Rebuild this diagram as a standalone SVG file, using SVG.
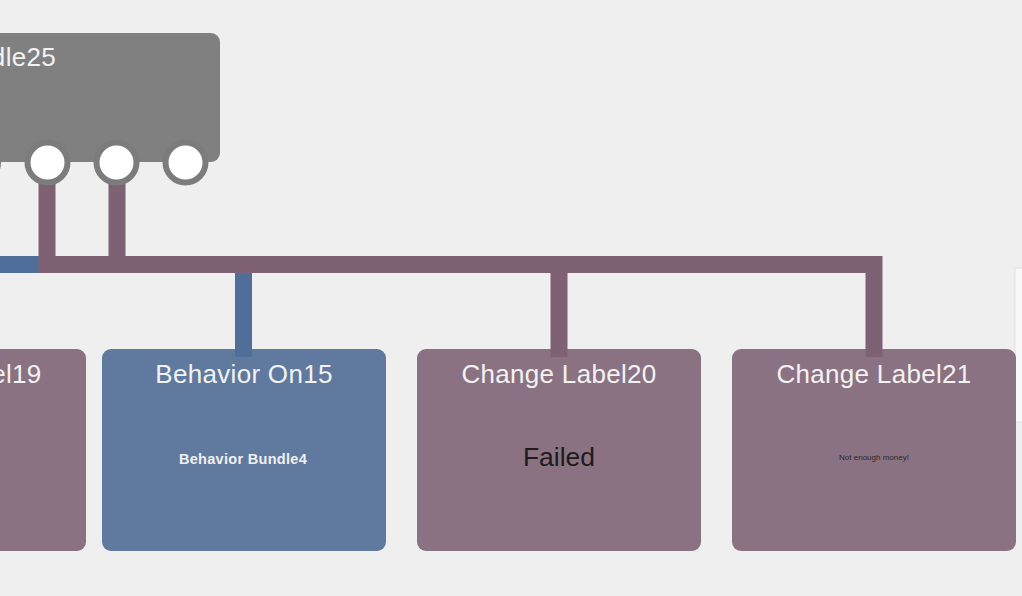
<svg xmlns="http://www.w3.org/2000/svg" width="1022" height="596" viewBox="0 0 1022 596">
<style>
.bg{fill:#efefef}
.pnode{fill:#8b7282}
.bnode{fill:#607a9f}
.gnode{fill:#808080}
.title{font-family:"Liberation Sans",Arial,sans-serif;font-size:26px;letter-spacing:0.3px;fill:#f2f2f2;text-anchor:middle}
.sub{font-family:"Liberation Sans",Arial,sans-serif;font-size:14.5px;font-weight:bold;letter-spacing:0.3px;fill:#f0f0f0;text-anchor:middle}
.body{font-family:"Liberation Sans",Arial,sans-serif;font-size:26.5px;fill:#1c1c1c;text-anchor:middle}
.tiny{font-family:"Liberation Sans",Arial,sans-serif;font-size:8px;fill:#2a2a2a;text-anchor:middle}
.pl{fill:none;stroke:#7e6274;stroke-width:17;stroke-linejoin:miter}
.bl{fill:none;stroke:#4f6e99;stroke-width:17;stroke-linejoin:miter}
.port{fill:#ffffff;stroke:#7c7c7c;stroke-width:6}
</style>
<rect class="bg" x="0" y="0" width="1022" height="596"/>
<rect x="1015" y="268" width="10" height="154" fill="#f8f8f8" stroke="#e2e2e2" stroke-width="1"/>
<g id="node-change-label19">
<rect class="pnode" x="-198" y="349" width="284" height="202" rx="9"/>
<text class="title" x="-56" y="383">Change Label19</text>
</g>
<g id="node-behavior-on15">
<rect class="bnode" x="102" y="349" width="284" height="202" rx="9"/>
<text class="title" x="244" y="383">Behavior On15</text>
<text class="sub" x="243" y="464">Behavior Bundle4</text>
</g>
<g id="node-change-label20">
<rect class="pnode" x="417" y="349" width="284" height="202" rx="9"/>
<text class="title" x="559" y="383">Change Label20</text>
<text class="body" x="559" y="466">Failed</text>
</g>
<g id="node-change-label21">
<rect class="pnode" x="732" y="349" width="284" height="202" rx="9"/>
<text class="title" x="874" y="383">Change Label21</text>
<text class="tiny" x="874" y="460">Not enough money!</text>
</g>
<g id="connectors">
<path class="bl" d="M -20 264.5 H 243.5 V 357"/>
<path class="pl" d="M 47 170 V 264.5 H 874 V 357"/>
<path class="pl" d="M 117 170 V 264.5"/>
<path class="pl" d="M 559 264.5 V 357"/>
</g>
<g id="node-behavior-bundle25">
<rect class="gnode" x="-200" y="33" width="420" height="129" rx="9"/>
<text class="title" x="56" y="66" style="text-anchor:end">Behavior Bundle25</text>
<circle class="port" cx="-22" cy="162.5" r="20"/>
<circle class="port" cx="47.5" cy="162.5" r="20"/>
<circle class="port" cx="116.5" cy="162.5" r="20"/>
<circle class="port" cx="185.5" cy="162.5" r="20"/>
</g>
</svg>
